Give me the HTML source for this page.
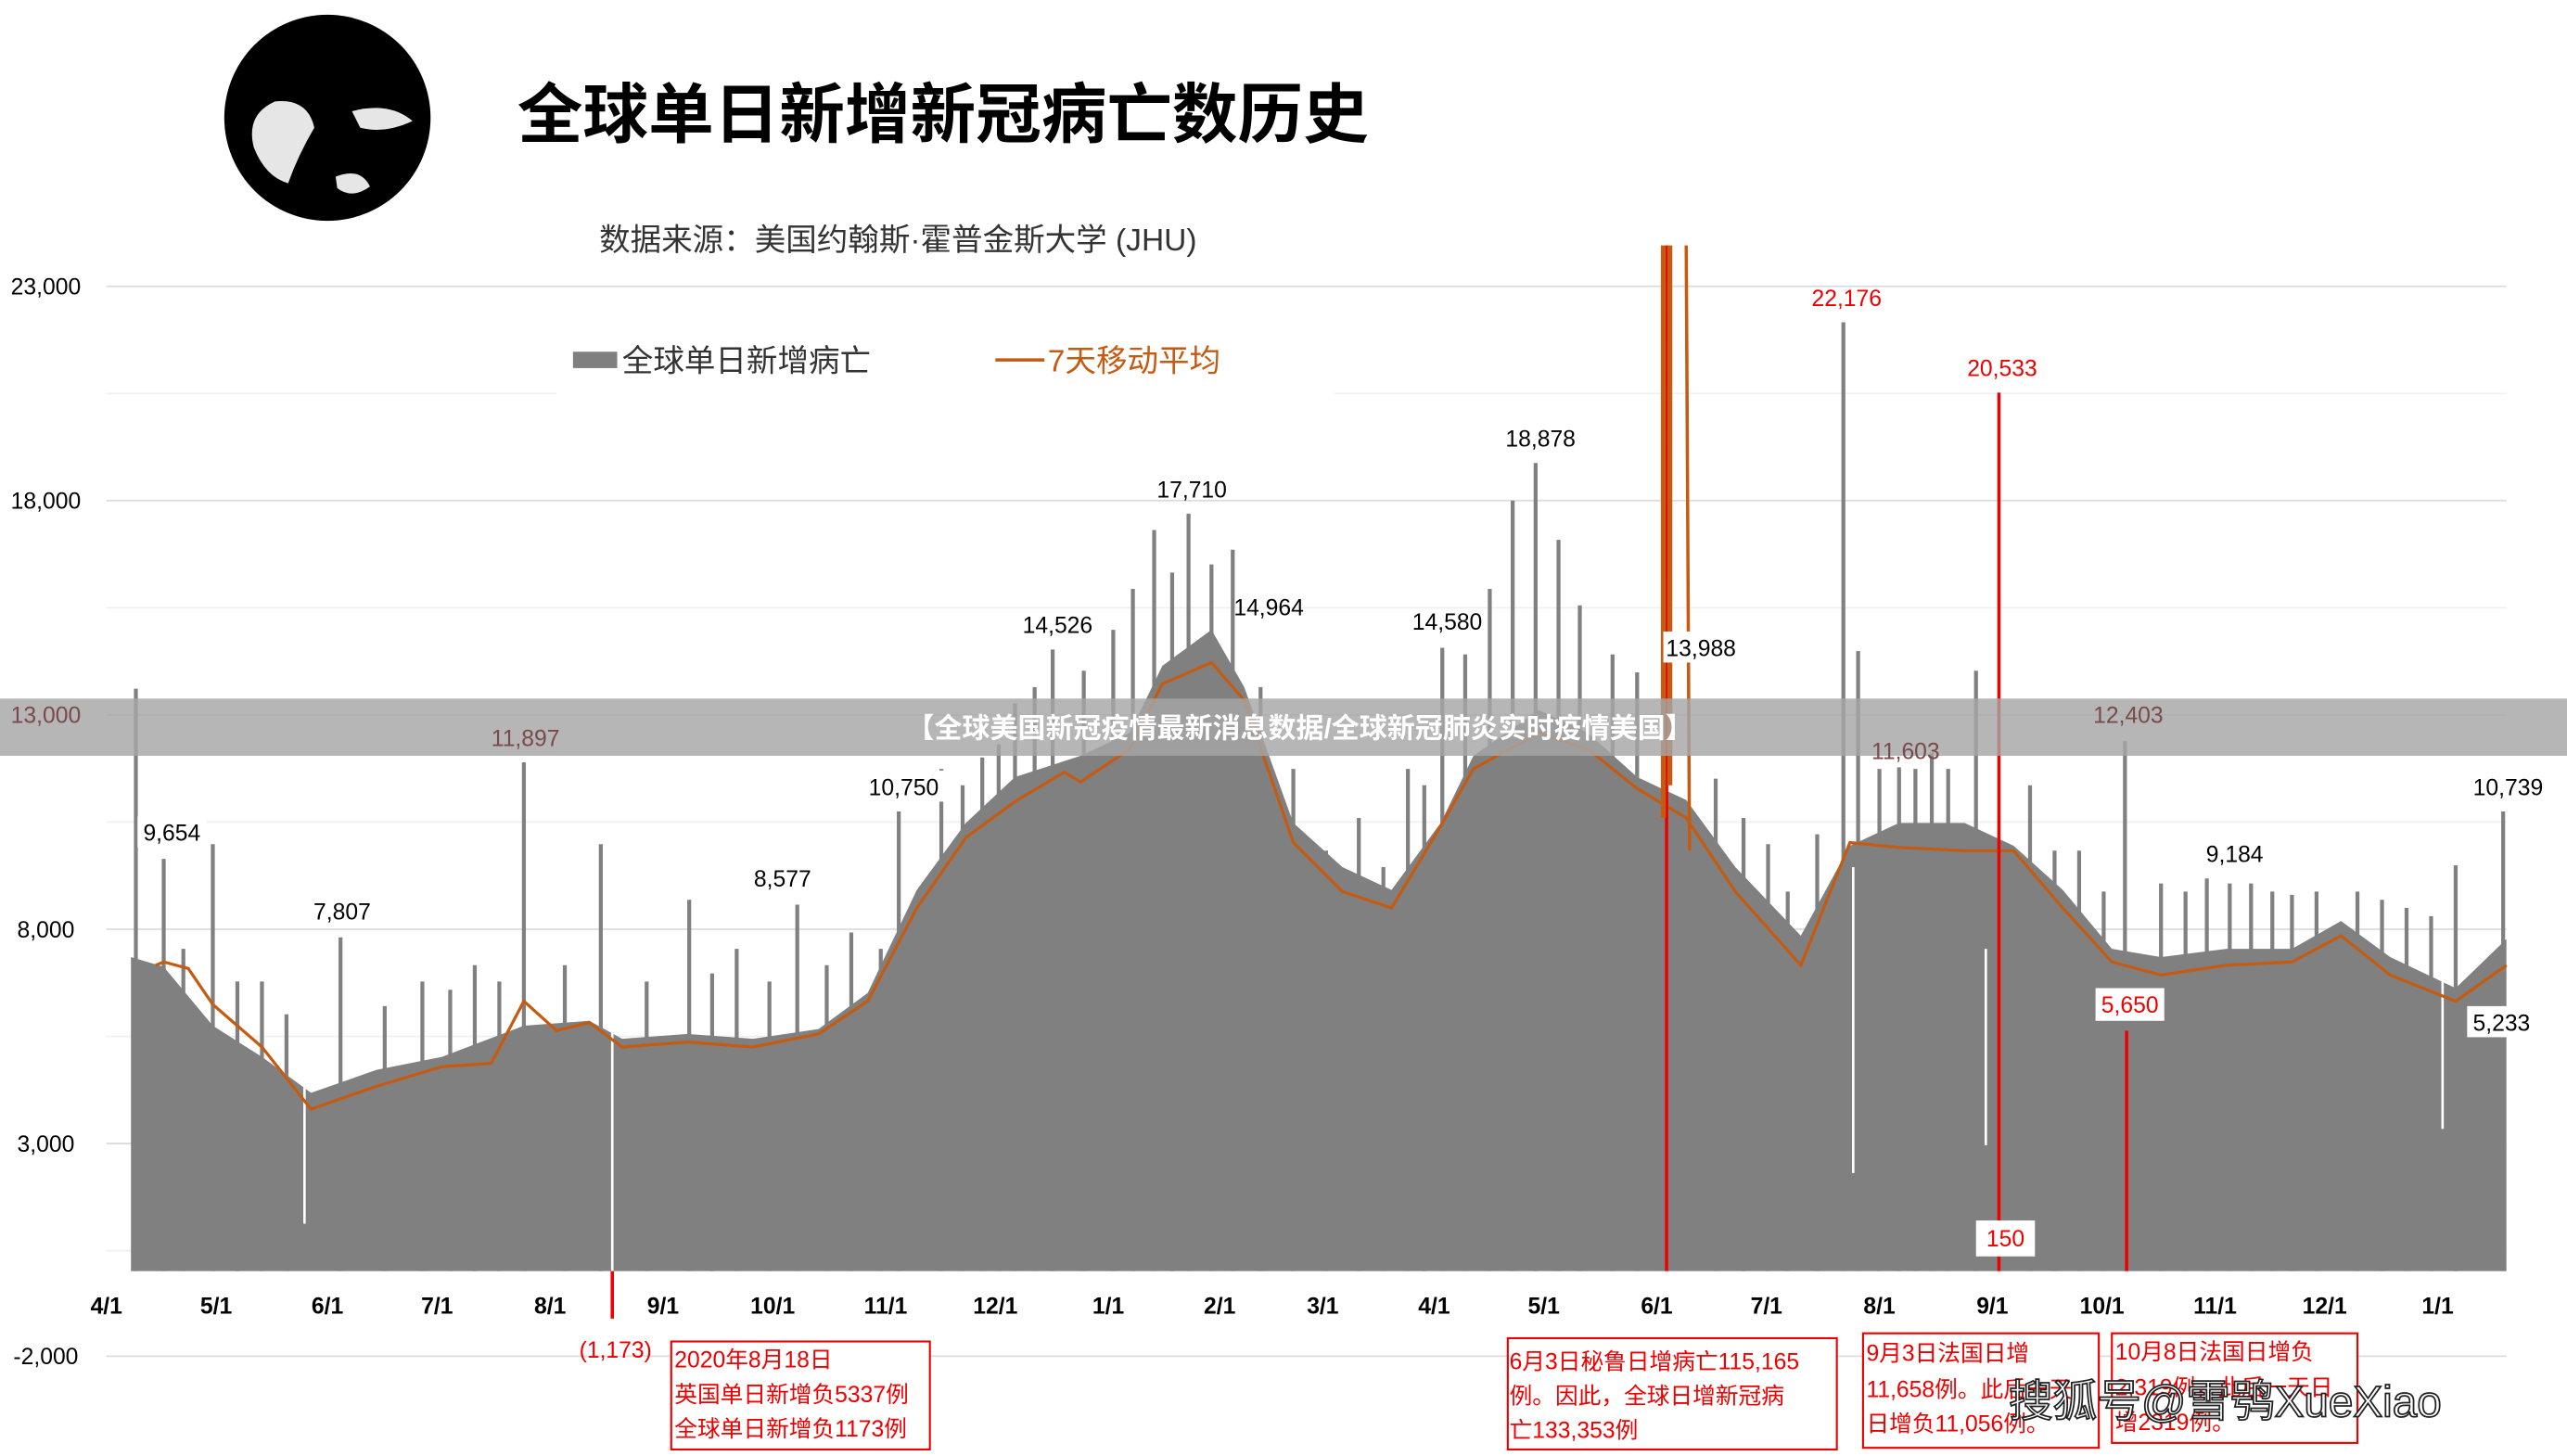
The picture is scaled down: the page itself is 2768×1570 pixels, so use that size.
<!DOCTYPE html>
<html><head><meta charset="utf-8"><style>
html,body{margin:0;padding:0;background:#fff;overflow:hidden}
svg{display:block}
text{font-family:"Liberation Sans","Noto Sans CJK SC",sans-serif}
</style></head><body>
<svg width="2768" height="1570" viewBox="0 0 1568 890" preserveAspectRatio="none" xmlns="http://www.w3.org/2000/svg">
<rect width="1568" height="890" fill="#fff"/>
<g stroke-width="1">
<line x1="65" x2="1531" y1="175" y2="175" stroke="#dcdcdc"/><line x1="65" x2="1531" y1="240.5" y2="240.5" stroke="#f0f0f0"/>
<line x1="65" x2="1531" y1="306" y2="306" stroke="#dcdcdc"/><line x1="65" x2="1531" y1="371.5" y2="371.5" stroke="#f0f0f0"/>
<line x1="65" x2="1531" y1="437" y2="437" stroke="#dcdcdc"/><line x1="65" x2="1531" y1="502.5" y2="502.5" stroke="#f0f0f0"/>
<line x1="65" x2="1531" y1="568" y2="568" stroke="#dcdcdc"/><line x1="65" x2="1531" y1="633.5" y2="633.5" stroke="#f0f0f0"/>
<line x1="65" x2="1531" y1="699" y2="699" stroke="#dcdcdc"/><line x1="65" x2="1531" y1="764.5" y2="764.5" stroke="#f0f0f0"/>
<line x1="65" x2="1531" y1="829" y2="829" stroke="#dcdcdc"/>
</g>
<polygon fill="#808080" points="80,777 80,585 100,591 130,627 160,646 190,668 230,654 270,646 320,627 360,624 380,635 420,632 460,635 500,629 530,607 560,544 590,503 620,475 660,462 690,448 710,407 740,385 760,420 790,503 820,530 850,544 880,503 900,462 940,434 970,448 1000,475 1030,489 1060,530 1100,572 1130,517 1160,503 1200,503 1230,517 1260,544 1290,580 1320,585 1360,580 1400,580 1430,563 1460,585 1500,604 1531,574 1531,777"/>
<g stroke="#808080" stroke-width="2.4">
<line x1="83" y1="777" x2="83" y2="421"/><line x1="100" y1="777" x2="100" y2="525"/><line x1="130" y1="777" x2="130" y2="516"/>
<line x1="112" y1="777" x2="112" y2="580"/><line x1="145" y1="777" x2="145" y2="600"/><line x1="175" y1="777" x2="175" y2="620"/>
<line x1="160" y1="777" x2="160" y2="600"/><line x1="208" y1="777" x2="208" y2="573"/><line x1="258" y1="777" x2="258" y2="600"/>
<line x1="235" y1="777" x2="235" y2="615"/><line x1="275" y1="777" x2="275" y2="605"/><line x1="305" y1="777" x2="305" y2="600"/>
<line x1="290" y1="777" x2="290" y2="590"/><line x1="320" y1="777" x2="320" y2="466"/><line x1="367" y1="777" x2="367" y2="516"/>
<line x1="345" y1="777" x2="345" y2="590"/><line x1="395" y1="777" x2="395" y2="600"/><line x1="435" y1="777" x2="435" y2="595"/>
<line x1="421" y1="777" x2="421" y2="550"/><line x1="450" y1="777" x2="450" y2="580"/><line x1="487" y1="777" x2="487" y2="553"/>
<line x1="470" y1="777" x2="470" y2="600"/><line x1="505" y1="777" x2="505" y2="590"/><line x1="538" y1="777" x2="538" y2="580"/>
<line x1="520" y1="777" x2="520" y2="570"/><line x1="549" y1="777" x2="549" y2="496"/><line x1="575" y1="777" x2="575" y2="470"/>
<line x1="588" y1="777" x2="588" y2="480"/><line x1="610" y1="777" x2="610" y2="455"/><line x1="632" y1="777" x2="632" y2="420"/>
<line x1="600" y1="777" x2="600" y2="463"/><line x1="620" y1="777" x2="620" y2="430"/><line x1="643" y1="777" x2="643" y2="397"/>
<line x1="662" y1="777" x2="662" y2="410"/><line x1="680" y1="777" x2="680" y2="385"/><line x1="692" y1="777" x2="692" y2="360"/>
<line x1="705" y1="777" x2="705" y2="324"/><line x1="716" y1="777" x2="716" y2="350"/><line x1="726" y1="777" x2="726" y2="314"/>
<line x1="740" y1="777" x2="740" y2="345"/><line x1="753" y1="777" x2="753" y2="336"/><line x1="770" y1="777" x2="770" y2="420"/>
<line x1="790" y1="777" x2="790" y2="470"/><line x1="830" y1="777" x2="830" y2="500"/><line x1="860" y1="777" x2="860" y2="470"/>
<line x1="810" y1="777" x2="810" y2="520"/><line x1="845" y1="777" x2="845" y2="530"/><line x1="870" y1="777" x2="870" y2="480"/>
<line x1="881" y1="777" x2="881" y2="396"/><line x1="895" y1="777" x2="895" y2="400"/><line x1="910" y1="777" x2="910" y2="360"/>
<line x1="924" y1="777" x2="924" y2="306"/><line x1="938" y1="777" x2="938" y2="283"/><line x1="952" y1="777" x2="952" y2="330"/>
<line x1="965" y1="777" x2="965" y2="370"/><line x1="985" y1="777" x2="985" y2="400"/><line x1="1000" y1="777" x2="1000" y2="411"/>
<line x1="1048" y1="777" x2="1048" y2="476"/><line x1="1065" y1="777" x2="1065" y2="500"/><line x1="1080" y1="777" x2="1080" y2="516"/>
<line x1="1092" y1="777" x2="1092" y2="545"/><line x1="1110" y1="777" x2="1110" y2="510"/><line x1="1170" y1="777" x2="1170" y2="470"/>
<line x1="1126" y1="777" x2="1126" y2="197"/><line x1="1135" y1="777" x2="1135" y2="398"/><line x1="1148" y1="777" x2="1148" y2="470"/>
<line x1="1160" y1="777" x2="1160" y2="469"/><line x1="1180" y1="777" x2="1180" y2="460"/><line x1="1207" y1="777" x2="1207" y2="410"/>
<line x1="1190" y1="777" x2="1190" y2="470"/><line x1="1255" y1="777" x2="1255" y2="520"/><line x1="1285" y1="777" x2="1285" y2="545"/>
<line x1="1240" y1="777" x2="1240" y2="480"/><line x1="1270" y1="777" x2="1270" y2="520"/><line x1="1298" y1="777" x2="1298" y2="453"/>
<line x1="1320" y1="777" x2="1320" y2="540"/><line x1="1348" y1="777" x2="1348" y2="537"/><line x1="1375" y1="777" x2="1375" y2="540"/>
<line x1="1335" y1="777" x2="1335" y2="545"/><line x1="1362" y1="777" x2="1362" y2="540"/><line x1="1388" y1="777" x2="1388" y2="545"/>
<line x1="1400" y1="777" x2="1400" y2="547"/><line x1="1440" y1="777" x2="1440" y2="545"/><line x1="1470" y1="777" x2="1470" y2="555"/>
<line x1="1415" y1="777" x2="1415" y2="545"/><line x1="1455" y1="777" x2="1455" y2="550"/><line x1="1485" y1="777" x2="1485" y2="560"/>
<line x1="1500" y1="777" x2="1500" y2="529"/><line x1="1529" y1="777" x2="1529" y2="496"/>
</g>
<g stroke="#fff" stroke-width="1.5">
<line x1="374" y1="777" x2="374" y2="600"/><line x1="1132" y1="717" x2="1132" y2="530"/><line x1="186" y1="748" x2="186" y2="660"/>
<line x1="1213" y1="700" x2="1213" y2="580"/><line x1="1492" y1="690" x2="1492" y2="600"/>
</g>
<polyline fill="none" stroke="#c55a11" stroke-width="1.8" points="95,590 100,588 115,592 130,614 160,640 190,678 230,664 270,652 300,650 320,612 340,630 360,625 380,640 420,637 460,640 500,632 530,612 560,555 590,512 620,490 650,472 660,478 690,458 710,418 740,405 760,428 790,515 820,545 850,555 880,505 900,470 940,448 970,458 1000,482 1030,500 1060,545 1100,590 1130,515 1160,518 1200,520 1230,520 1260,555 1290,588 1320,596 1360,590 1400,588 1430,572 1460,596 1500,612 1531,590"/>
<circle cx="200" cy="72" r="63" fill="#000"/>
<g fill="#fff" opacity=".9">
<path d="M155 90 Q150 70 168 62 Q188 60 192 78 Q182 95 176 112 Q162 108 155 90Z"/>
<path d="M215 68 Q238 62 252 74 Q235 82 220 78Z"/>
<path d="M205 108 Q220 102 226 114 Q215 122 206 115Z"/>
</g>
<text x="576" y="84" font-size="40" font-weight="bold" text-anchor="middle">全球单日新增新冠病亡数历史</text>
<text x="366" y="153" font-size="19" fill="#333">数据来源：美国约翰斯·霍普金斯大学 (JHU)</text>
<rect x="340" y="195" width="475" height="48" fill="#fff"/>
<rect x="350" y="215" width="27" height="10" fill="#7f7f7f"/>
<text x="380" y="227" font-size="19" fill="#333">全球单日新增病亡</text>
<line x1="608" y1="220" x2="638" y2="220" stroke="#c55a11" stroke-width="2"/>
<text x="640" y="227" font-size="19" fill="#c55a11">7天移动平均</text>
<g font-size="14" text-anchor="middle">
<text x="28" y="180">23,000</text><text x="28" y="311">18,000</text><text x="28" y="573">8,000</text><text x="28" y="704">3,000</text><text x="28" y="834">-2,000</text>
</g>
<g font-size="14" font-weight="bold" text-anchor="middle">
<text x="65" y="803">4/1</text><text x="132" y="803">5/1</text><text x="200" y="803">6/1</text><text x="267" y="803">7/1</text><text x="336" y="803">8/1</text><text x="405" y="803">9/1</text><text x="472" y="803">10/1</text><text x="541" y="803">11/1</text><text x="608" y="803">12/1</text><text x="677" y="803">1/1</text><text x="745" y="803">2/1</text><text x="808" y="803">3/1</text><text x="876" y="803">4/1</text><text x="943" y="803">5/1</text><text x="1012" y="803">6/1</text><text x="1079" y="803">7/1</text><text x="1148" y="803">8/1</text><text x="1217" y="803">9/1</text><text x="1284" y="803">10/1</text><text x="1353" y="803">11/1</text><text x="1420" y="803">12/1</text><text x="1489" y="803">1/1</text>
</g>
<line x1="374" y1="777" x2="374" y2="806" stroke="#e00" stroke-width="2"/>
<line x1="1018" y1="150" x2="1018" y2="777" stroke="#e00" stroke-width="2"/>
<line x1="1016" y1="150" x2="1016" y2="500" stroke="#c55a11" stroke-width="3"/>
<line x1="1020" y1="150" x2="1020" y2="480" stroke="#c55a11" stroke-width="3"/>
<line x1="1030" y1="150" x2="1032" y2="520" stroke="#c55a11" stroke-width="2"/>
<line x1="1221" y1="240" x2="1221" y2="777" stroke="#e00" stroke-width="2"/>
<line x1="1299" y1="630" x2="1299" y2="777" stroke="#e00" stroke-width="2"/>
<g font-size="14" text-anchor="middle">
<rect x="84" y="499" width="42" height="19" fill="#fff"/><text x="105" y="514">9,654</text>
<rect x="188" y="547" width="42" height="19" fill="#fff"/><text x="209" y="562">7,807</text>
<rect x="457" y="527" width="42" height="19" fill="#fff"/><text x="478" y="542">8,577</text>
<rect x="527" y="471" width="50" height="19" fill="#fff"/><text x="552" y="486">10,750</text>
<text x="646" y="387">14,526</text><text x="728" y="304">17,710</text>
<text x="775" y="376">14,964</text><text x="884" y="385">14,580</text><text x="941" y="273">18,878</text>
<rect x="1016" y="386" width="48" height="19" fill="#fff"/><text x="1039" y="401">13,988</text>
<rect x="1344" y="512" width="42" height="19" fill="#fff"/><text x="1365" y="527">9,184</text>
<text x="1532" y="486">10,739</text>
<rect x="1507" y="615" width="42" height="19" fill="#fff"/><text x="1528" y="630">5,233</text>
</g>
<g font-size="14" fill="#e00" text-anchor="middle">
<text x="1128" y="187">22,176</text><text x="1223" y="230">20,533</text>
<rect x="1280" y="604" width="42" height="20" fill="#fff"/><text x="1301" y="619">5,650</text>
<rect x="1207" y="746" width="36" height="22" fill="#fff"/><text x="1225" y="762">150</text>
<text x="376" y="830">(1,173)</text>
</g>
<rect x="0" y="427" width="1568" height="35" fill="#a6a6a6" opacity=".82"/>
<text x="794" y="451" font-size="17" font-weight="bold" fill="#fff" text-anchor="middle">【全球美国新冠疫情最新消息数据/全球新冠肺炎实时疫情美国】</text>
<g font-size="14" fill="#7a4a4a" text-anchor="middle">
<text x="28" y="442">13,000</text><text x="321" y="456">11,897</text><text x="1164" y="464">11,603</text><text x="1300" y="442">12,403</text>
</g>
<g fill="#fff" stroke="#e00" stroke-width="1.2">
<rect x="410" y="820" width="158" height="66"/><rect x="921" y="818" width="201" height="68"/>
<rect x="1138" y="815" width="144" height="70"/><rect x="1290" y="815" width="150" height="67"/>
</g>
<g font-size="14" fill="#e00">
<text x="412" y="836">2020年8月18日</text><text x="412" y="857">英国单日新增负5337例</text><text x="412" y="878">全球单日新增负1173例</text>
<text x="922" y="837">6月3日秘鲁日增病亡115,165</text><text x="922" y="858">例。因此，全球日增新冠病</text><text x="922" y="879">亡133,353例</text>
<text x="1140" y="832">9月3日法国日增</text><text x="1140" y="854">11,658例。此后一天</text><text x="1140" y="875">日增负11,056例。</text>
<text x="1292" y="831">10月8日法国日增负</text><text x="1292" y="853">2,319例，此后一天日</text><text x="1292" y="874">增2319例。</text>
</g>
<text x="1227" y="866" font-size="27" fill="#fff" stroke="#222" stroke-width="1">搜狐号@雪鸮XueXiao</text>
</svg>
</body></html>
